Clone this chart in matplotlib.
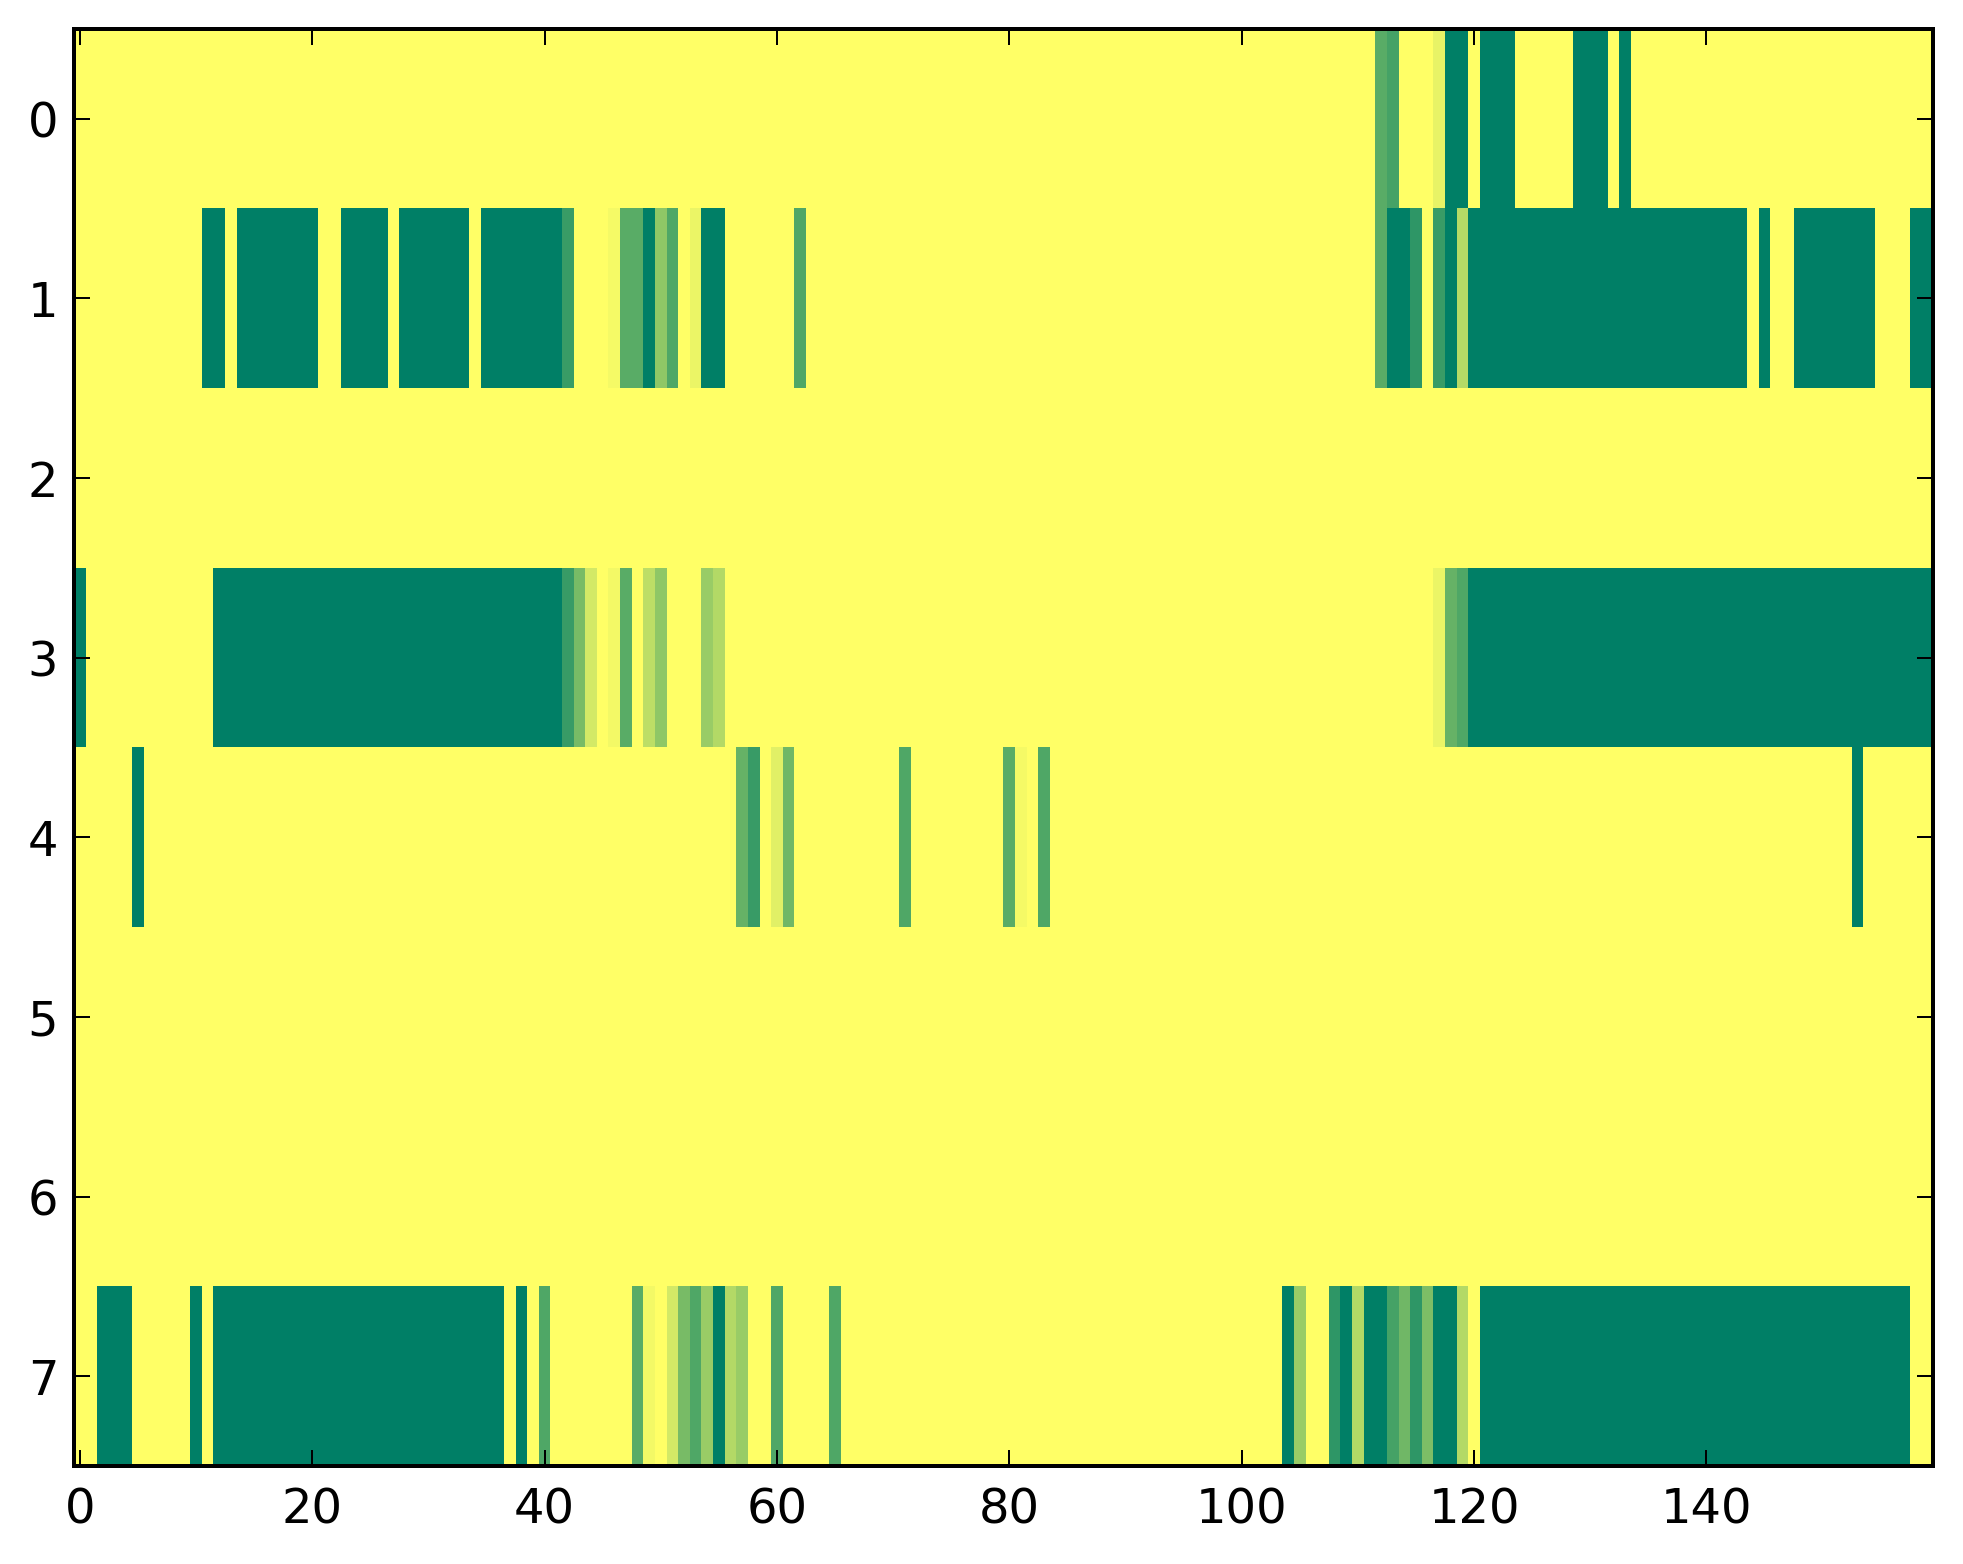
import numpy as np
import matplotlib
matplotlib.use("Agg")
import matplotlib.pyplot as plt

n_rows = 8
n_cols = 160

# runs per row: (first column, last column, value)
row0_runs = [(112, 112, 0.65), (113, 113, 0.73), (117, 117, 0.09),
             (118, 119, 1.0), (121, 123, 1.0), (129, 131, 1.0), (133, 133, 1.0)]
row1_runs = [(11, 12, 1.0), (14, 20, 1.0), (23, 26, 1.0), (28, 33, 1.0),
             (35, 41, 1.0), (42, 42, 0.77), (46, 46, 0.04), (47, 48, 0.65),
             (49, 49, 1.0), (50, 50, 0.44), (51, 51, 0.69), (53, 53, 0.08),
             (54, 55, 1.0), (62, 62, 0.69),
             (112, 112, 0.65), (113, 114, 1.0), (115, 115, 0.82), (117, 117, 0.77),
             (118, 118, 1.0), (119, 119, 0.29), (120, 143, 1.0), (145, 145, 1.0),
             (148, 154, 1.0), (158, 159, 1.0)]
row2_runs = []
row3_runs = [(0, 0, 1.0), (12, 41, 1.0), (42, 42, 0.78), (43, 43, 0.53),
             (44, 44, 0.17), (46, 46, 0.05), (47, 47, 0.65), (49, 49, 0.26),
             (50, 50, 0.44), (54, 54, 0.40), (55, 55, 0.30),
             (117, 117, 0.08), (118, 118, 0.60), (119, 119, 0.69), (120, 159, 1.0)]
row4_runs = [(5, 5, 1.0), (57, 57, 0.60), (58, 58, 0.78), (60, 60, 0.12),
             (61, 61, 0.56), (71, 71, 0.69), (80, 80, 0.65), (81, 81, 0.04),
             (83, 83, 0.69), (153, 153, 1.0)]
row5_runs = []
row6_runs = []
row7_runs = [(2, 4, 1.0), (10, 10, 1.0), (12, 36, 1.0), (38, 38, 1.0),
             (40, 40, 0.69), (48, 48, 0.65), (49, 49, 0.05), (51, 51, 0.17),
             (52, 52, 0.53), (53, 53, 0.69), (54, 54, 0.40), (55, 55, 1.0),
             (56, 56, 0.30), (57, 57, 0.40), (60, 60, 0.69), (65, 65, 0.69),
             (104, 104, 1.0), (105, 105, 0.40), (108, 108, 0.82), (109, 109, 1.0),
             (110, 110, 0.30), (111, 112, 1.0), (113, 113, 0.73), (114, 114, 0.56),
             (115, 115, 0.82), (116, 116, 0.51), (117, 118, 1.0), (119, 119, 0.30),
             (121, 157, 1.0)]

all_runs = [row0_runs, row1_runs, row2_runs, row3_runs,
            row4_runs, row5_runs, row6_runs, row7_runs]

grid = np.zeros((n_rows, n_cols))
for r, runs in enumerate(all_runs):
    for a, b, v in runs:
        grid[r, a:b + 1] = v

dpi = 288
fig = plt.figure(figsize=(1963 / dpi, 1564 / dpi), dpi=dpi, facecolor="white")
ax = fig.add_axes([74.2 / 1963, 1 - 1466 / 1564, (1932.9 - 74.2) / 1963, (1466 - 29) / 1564])

ax.imshow(grid, cmap="summer_r", vmin=0, vmax=1, aspect="auto", interpolation="nearest")

ax.set_xticks(np.arange(0, 160, 20))
ax.set_yticks(np.arange(0, 8))
ax.tick_params(direction="in", top=True, right=True, length=4, width=0.5,
               labelsize=12)
ax.tick_params(axis="x", pad=5)
ax.tick_params(axis="y", pad=4)
for s in ax.spines.values():
    s.set_linewidth(1.0)

fig.savefig("out.png", dpi=dpi, facecolor="white")
